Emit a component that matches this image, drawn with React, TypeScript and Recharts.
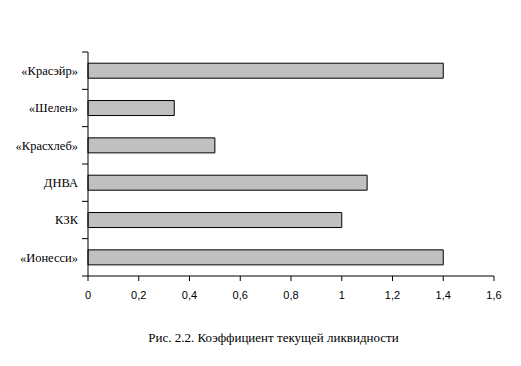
import React from "react";
import { BarChart, Bar, XAxis, YAxis } from "recharts";

const companies = ["«Красэйр»", "«Шелен»", "«Красхлеб»", "ДНВА", "КЗК", "«Ионесси»"];
const ratios = [1.4, 0.34, 0.5, 1.1, 1.0, 1.4];
const xTicks = [0, 0.2, 0.4, 0.6, 0.8, 1, 1.2, 1.4, 1.6];
const caption = "Рис. 2.2. Коэффициент текущей ликвидности";

const data = companies.map((name, i) => ({ name, value: ratios[i] }));

const W = 505;
const H = 300;
const M = { top: 44, right: 19, bottom: 2, left: 0 };
const X_AXIS_H = 30;
const band = (H - M.top - M.bottom - X_AXIS_H) / companies.length;

const serif = "serif";
const sans = "Liberation Sans, Arial, sans-serif";

const CategoryTick = (props: any) => {
  const { x, y, payload, index } = props;
  const axisX = x + 10;
  return (
    <g>
      <line x1={axisX - 6} x2={axisX} y1={y - band / 2} y2={y - band / 2} stroke="#000" />
      {index === companies.length - 1 && (
        <line x1={axisX - 6} x2={axisX} y1={y + band / 2} y2={y + band / 2} stroke="#000" />
      )}
      <text x={x} y={y} dy="0.355em" textAnchor="end" fontFamily={serif} fontSize={12.5} fill="#000">
        {payload.value}
      </text>
    </g>
  );
};

export default function App() {
  return (
    <div style={{ position: "relative", width: W, height: 350 }}>
      <BarChart width={W} height={H} data={data} layout="vertical" margin={M} barCategoryGap="30%">
        <XAxis
          type="number"
          domain={[0, 1.6]}
          ticks={xTicks}
          interval={0}
          height={X_AXIS_H}
          tickSize={5}
          tickMargin={10}
          stroke="#000"
          tick={{ fill: "#000", fontSize: 11, fontFamily: sans }}
          tickFormatter={(v: number) => String(v).replace(".", ",")}
        />
        <YAxis
          type="category"
          dataKey="name"
          width={80}
          stroke="#000"
          tickLine={false}
          tickSize={6}
          tickMargin={4}
          tick={<CategoryTick />}
        />
        <Bar dataKey="value" fill="#c0c0c0" stroke="#000" strokeWidth={1} isAnimationActive={false} />
      </BarChart>
      <div
        style={{
          position: "absolute",
          top: 323,
          left: 13,
          width: W,
          textAlign: "center",
          fontFamily: serif,
          fontSize: 13,
          lineHeight: "13px",
          color: "#000",
        }}
      >
        {caption}
      </div>
    </div>
  );
}
